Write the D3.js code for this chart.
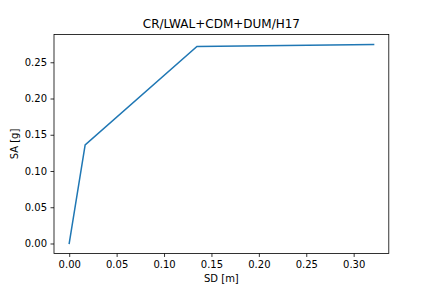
<!DOCTYPE html>
<html>
<head>
<meta charset="utf-8">
<script src="https://cdn.jsdelivr.net/npm/d3@7"></script>
<style>
  body { margin: 0; background: #fff; }
  svg { display: block; font-family: "DejaVu Sans", sans-serif; }
</style>
</head>
<body>
<svg width="432" height="288"></svg>
<script>
// pushover curve
var sd = [0.0, 0.0168, 0.1347, 0.321];
var sa = [0.0, 0.136, 0.2718, 0.2745];
var xTicks = [0.00, 0.05, 0.10, 0.15, 0.20, 0.25, 0.30];
var yTicks = [0.00, 0.05, 0.10, 0.15, 0.20, 0.25];
var title = "CR/LWAL+CDM+DUM/H17";

var svg = d3.select("svg"),
    width = +svg.attr("width"),
    height = +svg.attr("height");

// axes box (window.top is reserved, so use other names)
var axLeft = 54, axRight = 388.8, axTop = 34.56, axBottom = 253.44;

// matplotlib-like 5% margins
var xr = d3.extent(sd), yr = d3.extent(sa);
var xm = (xr[1] - xr[0]) * 0.05, ym = (yr[1] - yr[0]) * 0.05;

var x = d3.scaleLinear().domain([xr[0] - xm, xr[1] + xm]).range([axLeft, axRight]);
var y = d3.scaleLinear().domain([yr[0] - ym, yr[1] + ym]).range([axBottom, axTop]);

var xAxis = svg.append("g")
    .attr("transform", "translate(0," + axBottom + ")")
    .call(d3.axisBottom(x).tickValues(xTicks).tickFormat(d3.format(".2f")).tickSizeOuter(0).tickSize(3.5).tickPadding(3.5));

var yAxis = svg.append("g")
    .attr("transform", "translate(" + axLeft + ",0)")
    .call(d3.axisLeft(y).tickValues(yTicks).tickFormat(d3.format(".2f")).tickSizeOuter(0).tickSize(3.5).tickPadding(3.5));

[xAxis, yAxis].forEach(function (g) {
    g.select(".domain").remove();
    g.selectAll(".tick line").attr("stroke", "#000").attr("stroke-width", 0.8);
    g.selectAll(".tick text").attr("fill", "#000").style("font-size", "10px").style("font-family", "DejaVu Sans");
});

// frame
svg.append("rect")
    .attr("x", axLeft).attr("y", axTop)
    .attr("width", axRight - axLeft).attr("height", axBottom - axTop)
    .attr("fill", "none").attr("stroke", "#000").attr("stroke-width", 0.8);

// the line
var line = d3.line()
    .x(function (d, i) { return x(sd[i]); })
    .y(function (d, i) { return y(sa[i]); });

svg.append("path")
    .datum(sd)
    .attr("d", line)
    .attr("fill", "none")
    .attr("stroke", "#1f77b4")
    .attr("stroke-width", 1.5)
    .attr("stroke-linecap", "square");

// labels
svg.append("text")
    .attr("x", (axLeft + axRight) / 2).attr("y", axTop - 7)
    .attr("text-anchor", "middle")
    .style("font-size", "12px")
    .text(title);

svg.append("text")
    .attr("x", (axLeft + axRight) / 2).attr("y", 282)
    .attr("text-anchor", "middle")
    .style("font-size", "10px")
    .text("SD [m]");

svg.append("text")
    .attr("transform", "translate(18," + (axTop + axBottom) / 2 + ") rotate(-90)")
    .attr("text-anchor", "middle")
    .style("font-size", "10px")
    .text("SA [g]");
</script>
</body>
</html>
